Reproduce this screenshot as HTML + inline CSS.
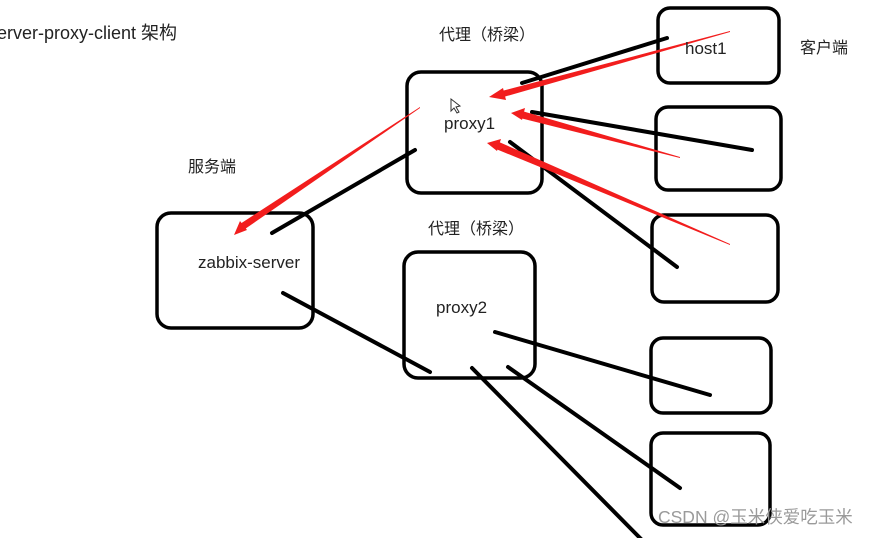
<!DOCTYPE html>
<html><head><meta charset="utf-8"><style>
html,body{margin:0;padding:0;background:#fff;}
svg{display:block;}
text{font-family:"Liberation Sans","Noto Sans CJK SC",sans-serif;fill:#222;}
</style></head><body>
<svg width="885" height="538" viewBox="0 0 885 538" xmlns="http://www.w3.org/2000/svg">
<g fill="none" stroke="#000" stroke-width="3.5">
<rect x="407" y="72" width="135" height="121" rx="14"/>
<rect x="658" y="8" width="121" height="75" rx="12"/>
<rect x="656" y="107" width="125" height="83" rx="12"/>
<rect x="652" y="215" width="126" height="87" rx="12"/>
<rect x="157" y="213" width="156" height="115" rx="14"/>
<rect x="404" y="252" width="131" height="126" rx="14"/>
<rect x="651" y="338" width="120" height="75" rx="12"/>
<rect x="651" y="433" width="119" height="92" rx="12"/>
</g>
<g stroke="#000" stroke-width="4" stroke-linecap="round">
<line x1="522" y1="83" x2="667" y2="38"/>
<line x1="532" y1="112" x2="752" y2="150"/>
<line x1="510" y1="142" x2="677" y2="267"/>
<line x1="272" y1="233" x2="415" y2="150"/>
<line x1="283" y1="293" x2="430" y2="372"/>
<line x1="495" y1="332" x2="710" y2="395"/>
<line x1="508" y1="367" x2="680" y2="488"/>
<line x1="472" y1="368" x2="642" y2="540"/>
</g>
<g fill="#f21d1d">
<polygon points="730,31 730,32 500,98 498,92"/>
<polygon points="489,97 503,88 506,100"/>
<polygon points="680,157 680,158 520,118 522,111"/>
<polygon points="511,113 525,108 522,120"/>
<polygon points="730,244 730,245 496,149 499,142"/>
<polygon points="487,143 501,139 497,151"/>
<polygon points="420,107 420,108 245,229 240,224"/>
<polygon points="234,235 240,221 247,230"/>
</g>
<text x="-3" y="39" font-size="18">erver-proxy-client 架构</text>
<text x="439" y="40" font-size="16">代理（桥梁）</text>
<text x="428" y="234" font-size="16">代理（桥梁）</text>
<text x="800" y="53" font-size="16">客户端</text>
<text x="188" y="172" font-size="16">服务端</text>
<text x="685" y="54" font-size="17">host1</text>
<text x="444" y="129" font-size="17">proxy1</text>
<text x="198" y="268" font-size="17">zabbix-server</text>
<text x="436" y="313" font-size="17">proxy2</text>
<text x="658" y="523" font-size="17.5" style="fill:#9a9a9a">CSDN @玉米侠爱吃玉米</text>
<path d="M451 99 L451 111 L454 108 L457 113 L459 112 L456 107 L460 106 Z" fill="#fff" stroke="#333" stroke-width="1"/>
</svg>
</body></html>
